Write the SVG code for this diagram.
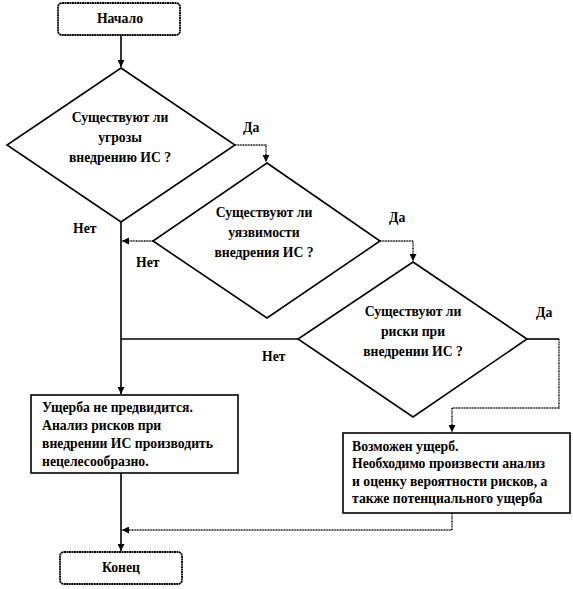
<svg xmlns="http://www.w3.org/2000/svg" width="573" height="589" viewBox="0 0 573 589">
<style>
text{font-family:'Liberation Serif','Times New Roman','DejaVu Serif',serif;font-weight:700;font-size:13.7px;fill:#000}
.c{text-anchor:middle}
.sh{fill:#fff;stroke:#000;stroke-width:1.6}
.term{fill:#fff;stroke:#000;stroke-width:1.8;stroke-dasharray:2 0.5}
.ln{fill:none;stroke:#000;stroke-width:1.6}
.dl{fill:none;stroke:#000;stroke-width:1.4;stroke-dasharray:1 0.6}
</style>
<defs>
<marker id="ar" viewBox="0 0 10 10" refX="10" refY="5" markerWidth="7" markerHeight="7" orient="auto" markerUnits="userSpaceOnUse">
<path d="M0,0 L10,5 L0,10 z" fill="#000"/>
</marker>
</defs>
<g id="connectors">
<path class="ln" d="M121,35 V67" marker-end="url(#ar)"/>
<path class="dl" d="M235,145 H266 V162" marker-end="url(#ar)"/>
<path class="ln" d="M121,222 V394" marker-end="url(#ar)"/>
<path class="dl" d="M153,241 H122" marker-end="url(#ar)"/>
<path class="dl" d="M380,241 H413 V261" marker-end="url(#ar)"/>
<path class="ln" d="M298,339 H121"/>
<path class="ln" d="M527,339 H559"/>
<path class="dl" d="M559,339 V408 H452 V432" marker-end="url(#ar)"/>
<path class="dl" d="M452,513 V530 H122" marker-end="url(#ar)"/>
<path class="ln" d="M121,473 V551" marker-end="url(#ar)"/>
</g>
<g id="start">
<rect class="term" x="58" y="3" width="122" height="32" rx="4"/>
<text class="c" x="120" y="23">Начало</text>
</g>
<g id="d1">
<polygon class="sh" points="121,68 235,145 121,222 7,145"/>
<text class="c" x="120" y="122">Существуют ли</text>
<text class="c" x="120" y="142">угрозы</text>
<text class="c" x="120" y="162">внедрению ИС ?</text>
</g>
<g id="d2">
<polygon class="sh" points="267,163 380,241 267,318 153,241"/>
<text class="c" x="264" y="217">Существуют ли</text>
<text class="c" x="264" y="237">уязвимости</text>
<text class="c" x="264" y="257">внедрения ИС ?</text>
</g>
<g id="d3">
<polygon class="sh" points="413,262 527,339 413,417 298,339"/>
<text class="c" x="413" y="316">Существуют ли</text>
<text class="c" x="413" y="336">риски при</text>
<text class="c" x="413" y="356">внедрении ИС ?</text>
</g>
<g id="labels">
<text x="243" y="132">Да</text>
<text x="389" y="222">Да</text>
<text x="536" y="317">Да</text>
<text x="73" y="233">Нет</text>
<text x="136" y="267">Нет</text>
<text x="262" y="361">Нет</text>
</g>
<g id="nodamage">
<rect class="sh" x="31" y="395" width="207" height="78" stroke-width="2"/>
<text x="42" y="412">Ущерба не предвидится.</text>
<text x="42" y="430">Анализ рисков при</text>
<text x="42" y="448">внедрении  ИС производить</text>
<text x="42" y="466">нецелесообразно.</text>
</g>
<g id="damage">
<rect class="sh" x="343" y="433" width="227" height="80" stroke-width="2"/>
<text x="352" y="451">Возможен ущерб.</text>
<text x="352" y="468">Необходимо произвести  анализ</text>
<text x="352" y="486">и оценку вероятности рисков,  а</text>
<text x="352" y="503">также потенциального  ущерба</text>
</g>
<g id="end">
<rect class="term" x="60" y="552" width="122" height="32" rx="4"/>
<text class="c" x="121" y="572">Конец</text>
</g>
</svg>
